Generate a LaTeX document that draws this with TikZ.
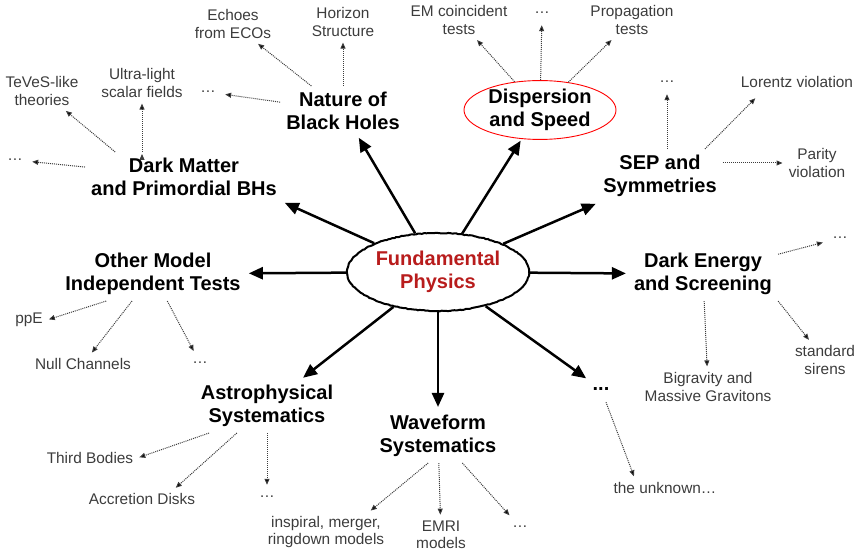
\documentclass[tikz,border=0pt]{standalone}
\usepackage{fontspec}
\setmainfont{Liberation Sans}
\usetikzlibrary{arrows.meta,positioning,shapes.geometric,decorations.pathmorphing}
\definecolor{fpred}{HTML}{B81C1C}
\definecolor{leafgray}{HTML}{3C3C3C}

\begin{document}
\begin{tikzpicture}[x=1pt,y=-1pt,
    hub/.style={ellipse,draw,line width=2pt,minimum width=182pt,minimum height=78pt,inner sep=0pt,
      align=center,text=fpred,font=\fontsize{20}{23}\selectfont\bfseries,
      decorate,decoration={random steps,segment length=2pt,amplitude=0.4pt}},
    topic/.style={align=center,inner sep=6pt,font=\fontsize{20}{23}\selectfont\bfseries},
    leaf/.style={align=center,inner sep=4pt,text=leafgray,font=\fontsize{15.4}{17.5}\selectfont},
    etc/.style={leaf,minimum width=30pt,minimum height=20pt,inner sep=0pt},
    bigarrow/.style={-{Triangle[length=14pt,width=12pt]},line width=2.5pt,shorten >=2pt},
    smallarrow/.style={-{Triangle[length=6pt,width=5pt]},densely dotted,line width=1pt,draw=leafgray,shorten >=2pt}]
    \useasboundingbox (0,0) rectangle (860,553);

    % centre and main topics
    \node[hub]   (fp)  at (438,272) {Fundamental\\Physics};
    \node[topic] (nbh) at (343,111) {Nature of\\Black Holes};
    \node[topic,ellipse,draw=red,line width=0.9pt,inner sep=0pt,minimum width=152pt,minimum height=56pt]
                 (ds)  at (540,110) {Dispersion\\and Speed};
    \node[topic] (sep) at (660,176) {SEP and\\Symmetries};
    \node[topic] (des) at (703,274) {Dark Energy\\and Screening};
    \node[topic,minimum width=26pt,minimum height=26pt,inner sep=2pt] (unk) at (601,389) {...};
    \node[topic] (wfs) at (438,436) {Waveform\\Systematics};
    \node[topic] (aps) at (267,406) {Astrophysical\\Systematics};
    \node[topic] (omi) at (153,274) {Other Model\\Independent Tests};
    \node[topic] (dm)  at (184,177) {Dark Matter\\and Primordial BHs};

    % leaves
    \node[leaf] (echo) at (233,24)  {Echoes\\from ECOs};
    \node[leaf] (hor)  at (343,22)  {Horizon\\Structure};
    \node[etc]  (nbhx) at (208,92)  {\dots};
    \node[leaf] (emc)  at (459,20)  {EM coincident\\tests};
    \node[etc]  (dsx)  at (542,13)  {\dots};
    \node[leaf] (prop) at (632,20)  {Propagation\\tests};
    \node[etc]  (sepx) at (667,82)  {\dots};
    \node[leaf] (lor)  at (797,82)  {Lorentz violation};
    \node[leaf] (par)  at (817,163) {Parity\\violation};
    \node[etc]  (desx) at (840,238) {\dots};
    \node[leaf] (bigr) at (708,387) {Bigravity and\\Massive Gravitons};
    \node[leaf] (sir)  at (825,360) {standard\\sirens};
    \node[leaf] (tuk)  at (665,488) {the unknown\dots};
    \node[leaf] (insp) at (326,532) {inspiral, merger,\\ringdown models};
    \node[leaf] (emri) at (441,535) {EMRI\\models};
    \node[etc]  (wfsx) at (520,527) {\dots};
    \node[leaf] (third) at (90,458) {Third Bodies};
    \node[leaf] (accr) at (142,499) {Accretion Disks};
    \node[etc]  (apsx) at (267,497) {\dots};
    \node[leaf] (ppe)  at (29,320)  {ppE};
    \node[leaf] (null) at (83,364)  {Null Channels};
    \node[etc]  (omix) at (200,363) {\dots};
    \node[leaf] (tev)  at (42,91)   {TeVeS-like\\theories};
    \node[leaf] (ulsf) at (142,83)  {Ultra-light\\scalar fields};
    \node[etc]  (dmx)  at (15,160)  {\dots};

    \path[bigarrow]
    (fp) edge (nbh)
    (fp) edge (ds)
    (fp) edge (sep)
    (fp) edge (des)
    (fp) edge (unk)
    (fp) edge (wfs)
    (fp) edge (aps)
    (fp) edge (omi)
    (fp) edge (dm.south east)
    ;

    \path[smallarrow]
    (nbh) edge (echo)
    (nbh) edge (hor)
    (nbh) edge (nbhx)
    (ds) edge (emc)
    (ds) edge (dsx)
    (ds) edge (prop)
    (sepx |- sep.north) edge (sepx)
    (sep.31) edge ([xshift=20pt,yshift=-5pt]lor.south west)
    (sep.east |- par) edge (par)
    (des) edge (desx)
    (des) edge (bigr)
    (des.south east) edge (sir)
    (unk) edge (tuk.162)
    (wfs.250) edge (insp.25)
    (wfs) edge (emri)
    (wfs) edge (wfsx)
    (aps.205) edge (third.east)
    (aps) edge (accr.17)
    (aps) edge (apsx)
    (omi.210) edge (ppe.east)
    (omi) edge (null)
    (omi) edge (omix)
    (dm.160) edge (tev)
    (ulsf |- dm.north) edge (ulsf)
    (dm) edge (dmx)
    ;
  \end{tikzpicture}
\end{document}
